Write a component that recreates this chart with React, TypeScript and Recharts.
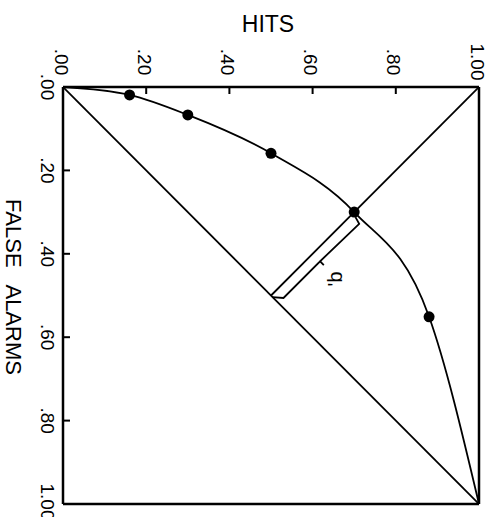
import { ComposedChart, Line, XAxis, YAxis, ReferenceLine } from 'recharts';

// ROC curve, drawn transposed like the original figure: hits across the top, false alarms down the side
const hits = [0.16, 0.3, 0.5, 0.7, 0.88];
const falseAlarms = [0.019, 0.067, 0.159, 0.3, 0.551];
const tickValues = [0, 0.2, 0.4, 0.6, 0.8, 1];

const W = 492;
const H = 517;
const LEFT = 63;
const TOP = 87;
const FONT = '"Liberation Sans", Arial, Helvetica, sans-serif';

const points = hits.map((h, i) => ({ h, f: falseAlarms[i] }));
const curve = [{ h: 0, f: 0 }, ...points, { h: 1, f: 1 }];
const chance = [{ h: 0, f: 0 }, { h: 1, f: 1 }];

// negative diagonal from (1,0) to the chance line, passes through the 4th point
const cross = points[3];
const mid = { h: 0.5, f: 0.5 };
const negDiag = [{ h: 1, f: 0 }, mid];

// d' bracket, offset below the negative diagonal
const o = 0.018;
const half = { h: (cross.h + mid.h) / 2 + o, f: (cross.f + mid.f) / 2 + o };
const bracket = [
  { h: cross.h + 0.003, f: cross.f + 0.012 },
  { h: cross.h + o - 0.006, f: cross.f + o + 0.01 },
  half,
  { h: half.h + 0.009, f: half.f + 0.009 },
  half,
  { h: mid.h + o + 0.012, f: mid.f + o - 0.012 },
  { h: mid.h + 0.003, f: mid.f + 0.004 },
];

const fmt = (v: number) => (v === 1 ? '1.00' : v.toFixed(2).slice(1));

function TopTick(props: any) {
  const { x, payload } = props;
  const v = payload.value;
  return (
    <g>
      {v > 0 && v < 1 && <line x1={x} y1={TOP} x2={x} y2={TOP + 7} stroke="#000" strokeWidth={2} />}
      <text
        transform={`translate(${x - 2},${TOP - 25}) rotate(90)`}
        textAnchor="middle"
        dominantBaseline="central"
        fontFamily={FONT}
        fontSize={19}
        fill="#000"
      >
        {fmt(v)}
      </text>
    </g>
  );
}

function LeftTick(props: any) {
  const { y, payload } = props;
  const v = payload.value;
  return (
    <g>
      {v > 0 && v < 1 && <line x1={LEFT} y1={y} x2={LEFT + 7} y2={y} stroke="#000" strokeWidth={2} />}
      <text
        transform={`translate(${LEFT - 16},${v === 1 ? y - 2 : y}) rotate(90)`}
        textAnchor="middle"
        dominantBaseline="central"
        fontFamily={FONT}
        fontSize={19}
        fill="#000"
      >
        {fmt(v)}
      </text>
    </g>
  );
}

export default function App() {
  return (
    <div style={{ position: 'absolute', left: 0, top: 0, width: W, height: H, background: '#fff' }}>
      <ComposedChart width={W} height={H} margin={{ top: 0, right: 13, bottom: 13, left: 0 }}>
        <XAxis
          type="number"
          dataKey="h"
          orientation="top"
          domain={[0, 1]}
          ticks={tickValues}
          height={TOP}
          axisLine={{ stroke: '#000', strokeWidth: 2.5 }}
          tickLine={false}
          tick={(p: any) => <TopTick {...p} />}
          interval={0}
          allowDataOverflow
        />
        <YAxis
          type="number"
          dataKey="f"
          domain={[0, 1]}
          reversed
          ticks={tickValues}
          width={LEFT}
          axisLine={{ stroke: '#000', strokeWidth: 2.5 }}
          tickLine={false}
          tick={(p: any) => <LeftTick {...p} />}
          interval={0}
          allowDataOverflow
        />
        <ReferenceLine x={1} stroke="#000" strokeWidth={2.5} />
        <ReferenceLine y={1} stroke="#000" strokeWidth={2.5} />
        <Line data={chance} dataKey="f" type="linear" stroke="#000" strokeWidth={1.8} dot={false} activeDot={false} isAnimationActive={false} />
        <Line data={negDiag} dataKey="f" type="linear" stroke="#000" strokeWidth={1.8} dot={false} activeDot={false} isAnimationActive={false} />
        <Line data={bracket} dataKey="f" type="linear" stroke="#000" strokeWidth={1.8} dot={false} activeDot={false} isAnimationActive={false} />
        <Line data={curve} dataKey="f" type="monotone" stroke="#000" strokeWidth={1.8} dot={false} activeDot={false} isAnimationActive={false} />
        <Line
          data={points}
          dataKey="f"
          stroke="none"
          dot={{ r: 5.5, fill: '#000', stroke: '#000', strokeWidth: 0 }}
          activeDot={false}
          isAnimationActive={false}
        />
        <text x={268} y={24} textAnchor="middle" dominantBaseline="central" fontFamily={FONT} fontSize={23} fill="#000">
          HITS
        </text>
        <text
          transform="translate(13,287) rotate(90)"
          textAnchor="middle"
          dominantBaseline="central"
          fontFamily={FONT}
          fontSize={22}
          fill="#000"
          style={{ wordSpacing: 12 }}
        >
          FALSE ALARMS
        </text>
        <text
          transform="matrix(0,1,1,0,335,279)"
          textAnchor="middle"
          dominantBaseline="central"
          fontFamily={FONT}
          fontSize={20}
          fill="#000"
        >
          d'
        </text>
      </ComposedChart>
    </div>
  );
}
